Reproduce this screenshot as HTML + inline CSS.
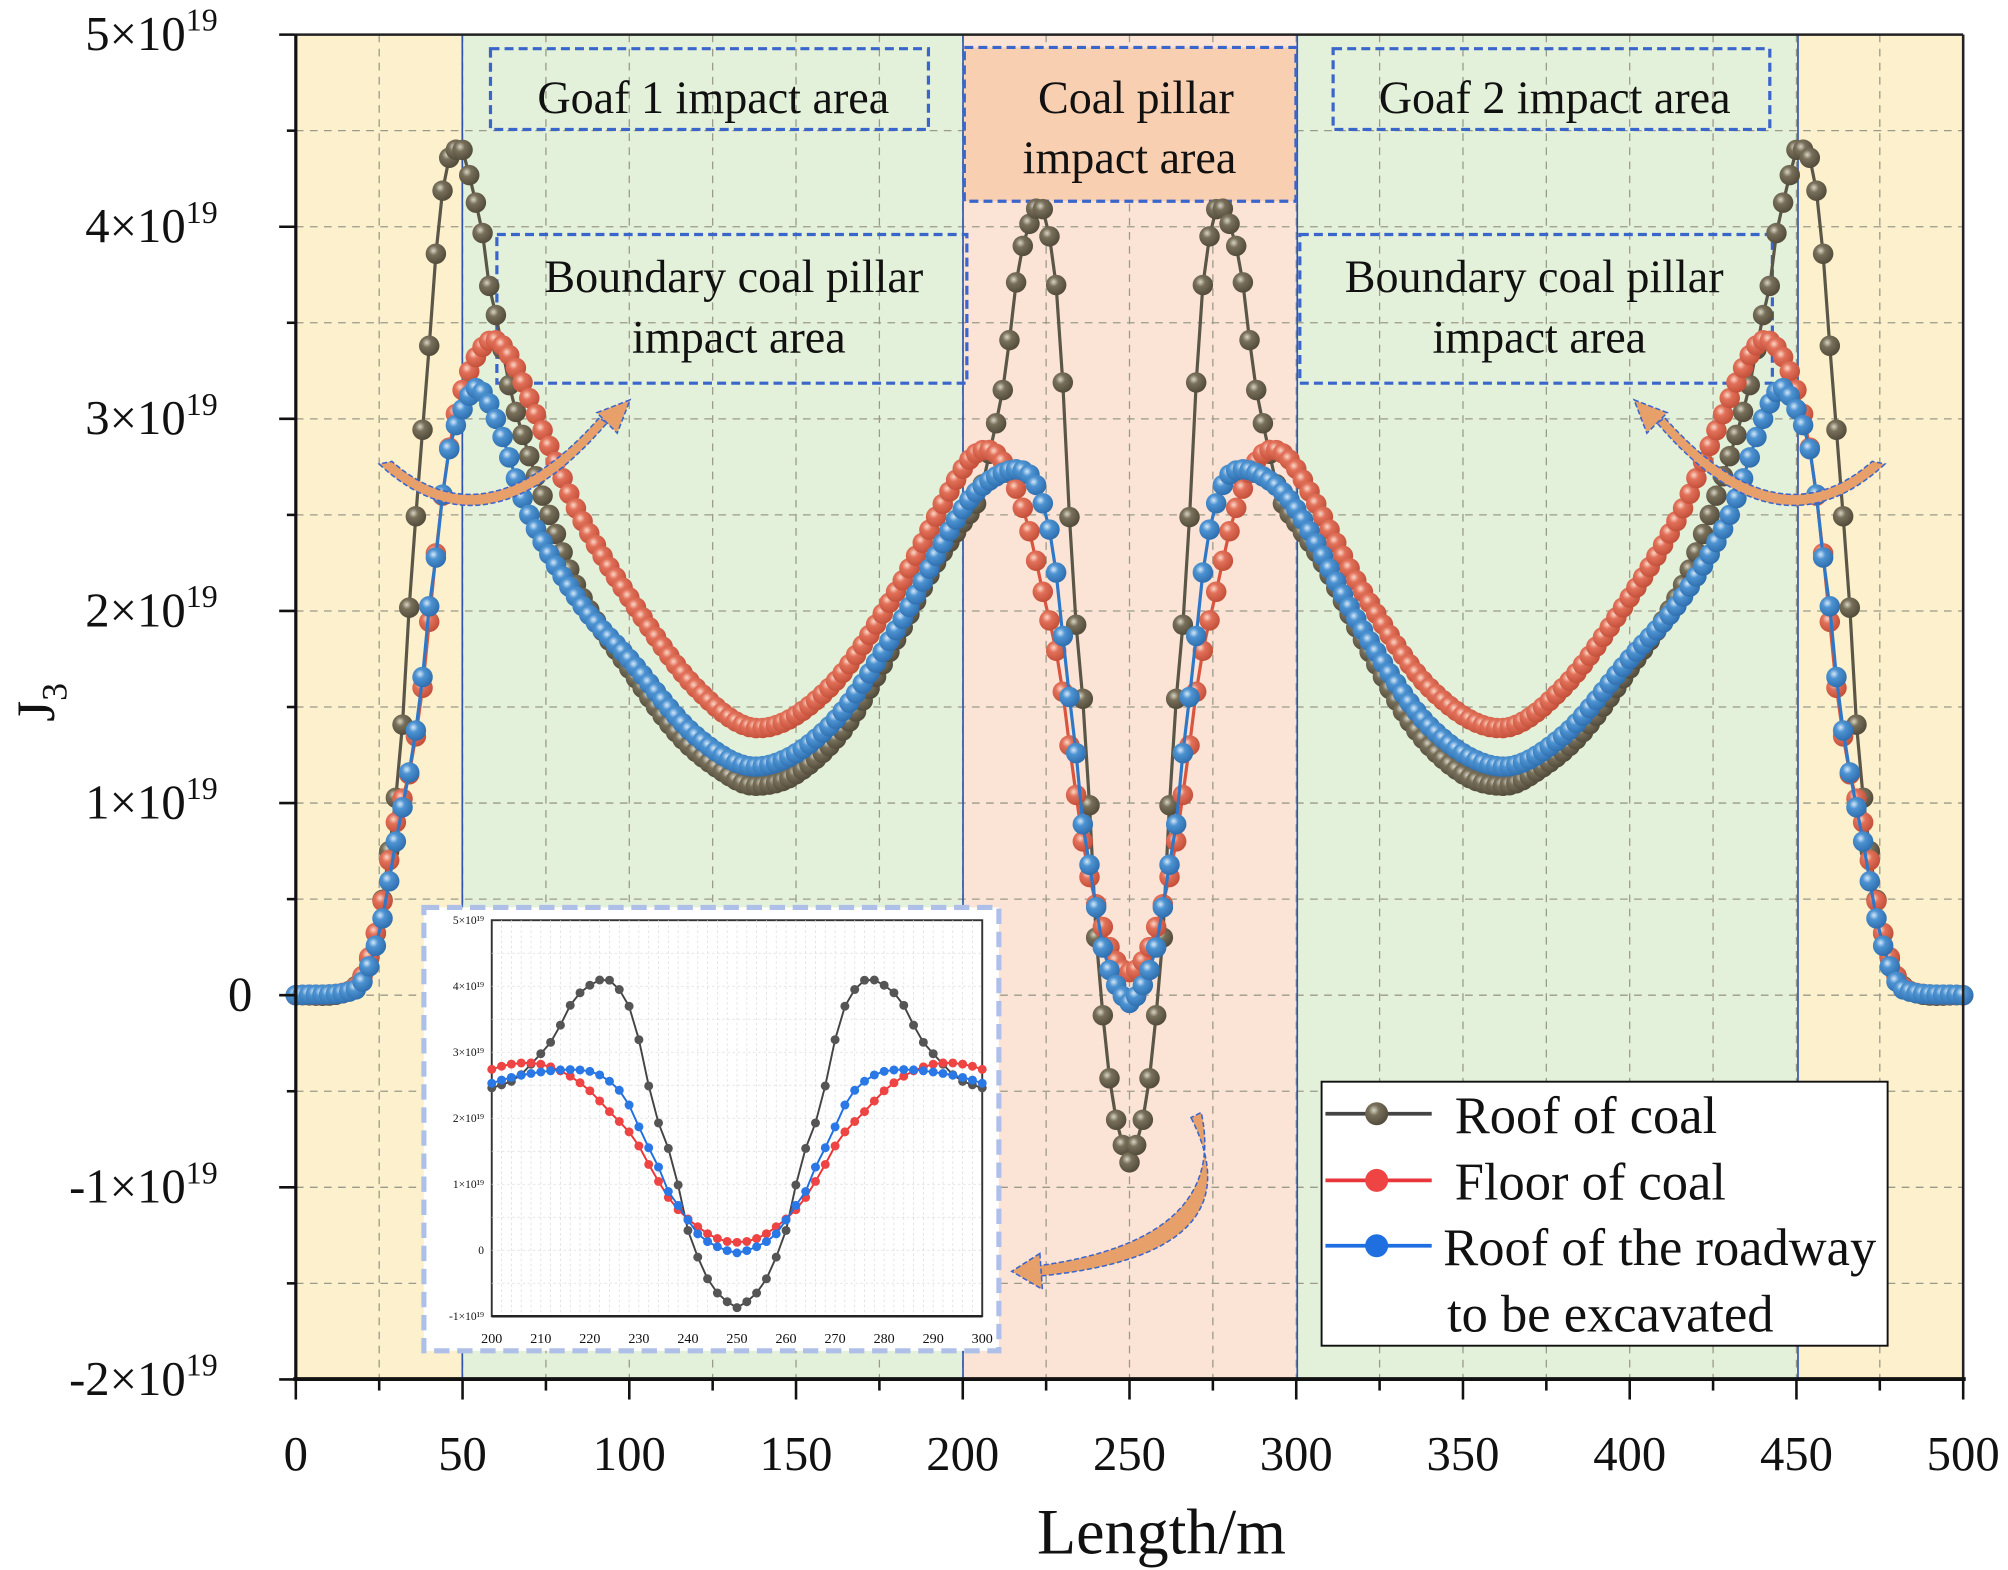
<!DOCTYPE html>
<html><head><meta charset="utf-8">
<style>
html,body{margin:0;padding:0;background:#fff;}
svg{display:block;}
text{font-family:"Liberation Serif",serif;fill:#111;}
</style></head>
<body>
<svg id="s" width="2008" height="1570" viewBox="0 0 1568 1225" preserveAspectRatio="none" xmlns="http://www.w3.org/2000/svg">
<defs>
<radialGradient id="gG" cx="0.38" cy="0.35" r="0.65"><stop offset="0" stop-color="#d8d4c4"/><stop offset="0.35" stop-color="#78705a"/><stop offset="1" stop-color="#534c3c"/></radialGradient>
<radialGradient id="gR" cx="0.38" cy="0.35" r="0.65"><stop offset="0" stop-color="#fbd8c8"/><stop offset="0.35" stop-color="#e2715a"/><stop offset="1" stop-color="#c4503a"/></radialGradient>
<radialGradient id="gB" cx="0.38" cy="0.35" r="0.65"><stop offset="0" stop-color="#d6e8f8"/><stop offset="0.35" stop-color="#4d93d2"/><stop offset="1" stop-color="#2f6fb0"/></radialGradient>
</defs>
<rect x="231" y="27" width="130" height="1049" fill="#fdf0cc"/>
<rect x="361" y="27" width="391" height="1049" fill="#e4f1da"/>
<rect x="752" y="27" width="261" height="1049" fill="#fbe4d6"/>
<rect x="1013" y="27" width="391" height="1049" fill="#e4f1da"/>
<rect x="1404" y="27" width="129" height="1049" fill="#fdf0cc"/>
<g id="grid" stroke="#9a9a8a" stroke-width="1" stroke-dasharray="6,5"></g>
<g stroke="#2f55b0" stroke-width="1.3">
<line x1="361" y1="27" x2="361" y2="1076"/><line x1="752" y1="27" x2="752" y2="1076"/>
<line x1="1013" y1="27" x2="1013" y2="1076"/><line x1="1404" y1="27" x2="1404" y2="1076"/>
</g>
<rect x="753" y="37" width="259" height="120" fill="#f9cfb2" stroke="#3a66cc" stroke-width="2.5" stroke-dasharray="7,4"/>
<g fill="none" stroke="#3a66cc" stroke-width="2.5" stroke-dasharray="7,4">
<rect x="383" y="38" width="342" height="63"/>
<rect x="1041" y="38" width="341" height="63"/>
<rect x="388" y="183" width="367" height="116"/>
<rect x="1015" y="183" width="369" height="116"/>
</g>
<g id="series"></g>
<g fill="#e8a06a" stroke="#3a66cc" stroke-width="1.2" stroke-dasharray="4,2">
<path d="M296,362 Q380,440 474,330 L468,326 Q380,425 306,360 Z"/>
<polygon points="466,322 492,312 482,338"/>
<path d="M1472,362 Q1388,440 1294,330 L1300,326 Q1388,425 1462,360 Z"/>
<polygon points="1302,322 1276,312 1286,338"/>
<path d="M930,872 Q985,980 808,996 L808,988 Q960,968 938,868 Z"/>
<polygon points="812,978 790,992 814,1006"/>
</g>
<g font-size="36" text-anchor="middle">
<text x="557" y="88">Goaf 1 impact area</text>
<text x="1214" y="88">Goaf 2 impact area</text>
<text x="887" y="88">Coal pillar</text>
<text x="882" y="135">impact area</text>
<text x="573" y="228">Boundary coal pillar</text>
<text x="577" y="275">impact area</text>
<text x="1198" y="228">Boundary coal pillar</text>
<text x="1202" y="275">impact area</text>
</g>
<rect x="331" y="708" width="449" height="346" fill="#fff" stroke="#aec0e8" stroke-width="4" stroke-dasharray="12,6"/>
<g id="inset"></g>
<rect x="1032" y="844" width="442" height="206" fill="#fff" stroke="#111" stroke-width="1.5"/>
<line x1="1035" y1="869" x2="1118" y2="869" stroke="#444" stroke-width="3"/><circle cx="1075" cy="869" r="9" fill="url(#gG)"/>
<line x1="1035" y1="921" x2="1118" y2="921" stroke="#e8363a" stroke-width="3"/><circle cx="1075" cy="921" r="9" fill="#e44"/>
<line x1="1035" y1="972" x2="1118" y2="972" stroke="#1f6fe0" stroke-width="3"/><circle cx="1075" cy="972" r="9" fill="#1f6fe0"/>
<g font-size="41">
<text x="1136" y="884">Roof of coal</text>
<text x="1136" y="936">Floor of coal</text>
<text x="1127" y="987">Roof of the roadway</text>
<text x="1130" y="1039">to be excavated</text>
</g>
<line x1="231" y1="27" x2="1533" y2="27" stroke="#222" stroke-width="2"/>
<line x1="1533" y1="27" x2="1533" y2="1076" stroke="#222" stroke-width="2"/>
<line x1="231" y1="27" x2="231" y2="1076" stroke="#111" stroke-width="2.5"/>
<line x1="229" y1="1076" x2="1535" y2="1076" stroke="#111" stroke-width="3"/>
<g id="ticks" stroke="#111" stroke-width="2"></g>
<g id="labels" font-size="38"></g>
<text x="907" y="1212" font-size="50" text-anchor="middle">Length/m</text>
<text transform="translate(42,548) rotate(-90)" font-size="42" text-anchor="middle">J<tspan font-size="28" dy="10">3</tspan></text>
</svg>
<script>
var NS="http://www.w3.org/2000/svg";
function el(t,a,p){var e=document.createElementNS(NS,t);for(var k in a)e.setAttribute(k,a[k]);if(p)p.appendChild(e);return e;}
var X=function(x){return 231+x*2.604;}, Y=function(v){return 776.5-v*149.9;};
var grid=document.getElementById('grid');
for(var v=-1.5;v<5;v+=0.5){el('line',{x1:231,x2:1533,y1:Y(v),y2:Y(v)},grid);}
for(var x=25;x<500;x+=25){el('line',{x1:X(x),x2:X(x),y1:27,y2:1076},grid);}
var tk=document.getElementById('ticks'),lb=document.getElementById('labels');
for(var x=0;x<=500;x+=25){el('line',{x1:X(x),x2:X(x),y1:1076,y2:x%50?1085:1092},tk);}
for(var x=0;x<=500;x+=50){var t=el('text',{x:X(x),y:1147,'text-anchor':'middle'},lb);t.textContent=x;}
for(var v=-2;v<=5;v+=0.5){el('line',{x1:v%1?224:218,x2:231,y1:Y(v),y2:Y(v)},tk);}
for(var v=-2;v<=5;v++){
  var t=el('text',{x:v==0?197:170,y:Y(v)+12,'text-anchor':'end'},lb);
  if(v==0){t.textContent='0';}else{t.textContent=(v<0?'-':'')+Math.abs(v)+'×10';var s=el('tspan',{'font-size':25,dy:-15},t);s.textContent='19';}
}
var G=[[0,0],[14,0.01],[20,0.1],[25,0.4],[28,0.75],[31.6,1.31],[33.7,1.94],[37,2.72],[40.4,3.47],[42.4,3.94],[45,4.3],[47,4.38],[50,4.4],[53,4.19],[55.8,3.99],[57.5,3.74],[60.5,3.5],[65,3.1],[75,2.55],[85,2.1],[100,1.7],[115,1.35],[130,1.14],[138,1.09],[150,1.15],[165,1.4],[180,1.85],[192,2.25],[200,2.46],[205,2.6],[209,2.9],[212,3.15],[214,3.41],[215.5,3.65],[218,3.9],[223,4.11],[226,3.95],[228.4,3.62],[230.6,3.0],[233,2.16],[237,1.31],[240,0.3],[243,-0.27],[245,-0.56],[248,-0.78],[250,-0.87]];
var R=[[0,0],[16,0.02],[20,0.1],[25,0.4],[30,0.9],[34,1.15],[38,1.6],[42,2.3],[46,2.85],[50,3.15],[55,3.35],[59.8,3.41],[65,3.3],[75,2.9],[85,2.5],[100,2.07],[120,1.6],[138.7,1.39],[160,1.6],[180,2.1],[200,2.74],[207,2.84],[213,2.75],[219,2.48],[224,2.1],[229,1.7],[232,1.3],[237,0.7],[243,0.3],[247,0.15],[250,0.12]];
var B=[[0,0],[18,0.03],[22,0.15],[26,0.4],[30,0.8],[34.4,1.2],[37.6,1.59],[39.7,1.98],[42.3,2.32],[44.5,2.68],[46.5,2.88],[50,3.05],[54.5,3.16],[60,3.0],[70,2.5],[85,2.05],[100,1.75],[120,1.35],[138.7,1.19],[160,1.4],[180,1.9],[200,2.53],[211,2.71],[220,2.71],[225,2.5],[228,2.2],[231,1.7],[234,1.26],[236,0.89],[239,0.58],[241,0.34],[243,0.18],[247,0.02],[250,-0.04]];
function f(P,x){if(x>250)x=500-x;var n=P.length;
  if(x<=P[0][0])return P[0][1];
  for(var i=1;i<n;i++){if(x<=P[i][0]){
    var a=P[i-1],b=P[i],h=b[0]-a[0],t=(x-a[0])/h;
    var pa=P[Math.max(i-2,0)],pb=P[Math.min(i+1,n-1)];
    var ma=(b[1]-pa[1])/(b[0]-pa[0])*h, mb=(pb[1]-a[1])/(pb[0]-a[0])*h;
    var t2=t*t,t3=t2*t;
    return (2*t3-3*t2+1)*a[1]+(t3-2*t2+t)*ma+(-2*t3+3*t2)*b[1]+(t3-t2)*mb;}}
  return P[n-1][1];}
var S=document.getElementById('series'),I=document.getElementById('inset');
var ix=function(x){return 384+(x-200)*3.83;}, iy=function(v){return 975.5-v*51.5;};
el('rect',{x:384,y:718,width:383,height:309,fill:'#fff',stroke:'#333','stroke-width':1.5},I);
for(var x=202;x<300;x+=2)el('line',{x1:ix(x),x2:ix(x),y1:718,y2:1027,stroke:'#ddd','stroke-width':0.6,'stroke-dasharray':'2,2'},I);
for(var v=-0.5;v<5;v+=0.5)el('line',{x1:384,x2:767,y1:iy(v),y2:iy(v),stroke:'#ddd','stroke-width':0.6,'stroke-dasharray':'2,2'},I);
el('line',{x1:384,x2:767,y1:1027,y2:1027,stroke:'#222','stroke-width':2},I);
for(var x=200;x<=300;x+=10){var t=el('text',{x:ix(x),y:1048,'font-size':11,'text-anchor':'middle'},I);t.textContent=x;}
for(var v=-1;v<=5;v++){var t=el('text',{x:378,y:iy(v)+3,'font-size':9,'text-anchor':'end'},I);t.textContent=v==0?'0':(v<0?'-':'')+Math.abs(v)+'×10¹⁹';}
function draw(P,col,fill,g,mx,my,step,r,x0,x1){
  var d='';for(var x=x0;x<=x1+0.01;x+=step){d+=(d?'L':'M')+mx(x).toFixed(1)+','+my(f(P,x)).toFixed(1);}
  el('path',{d:d,fill:'none',stroke:col,'stroke-width':r>5?2.5:1.5},g);
  for(var x=x0;x<=x1+0.01;x+=step){el('circle',{cx:mx(x),cy:my(f(P,x)),r:r,fill:fill},g);}
}
draw(G,'#5a5648','url(#gG)',S,X,Y,2,8,0,500);
draw(R,'#d9553f','url(#gR)',S,X,Y,2,8,0,500);
draw(B,'#2f78c8','url(#gB)',S,X,Y,2,8,0,500);
draw(G,'#444','#555',I,ix,iy,2,3.5,200,300);
draw(R,'#e33','#e44',I,ix,iy,2,3.5,200,300);
draw(B,'#1f6fe0','#2a78e6',I,ix,iy,2,3.5,200,300);
</script>
</body></html>
